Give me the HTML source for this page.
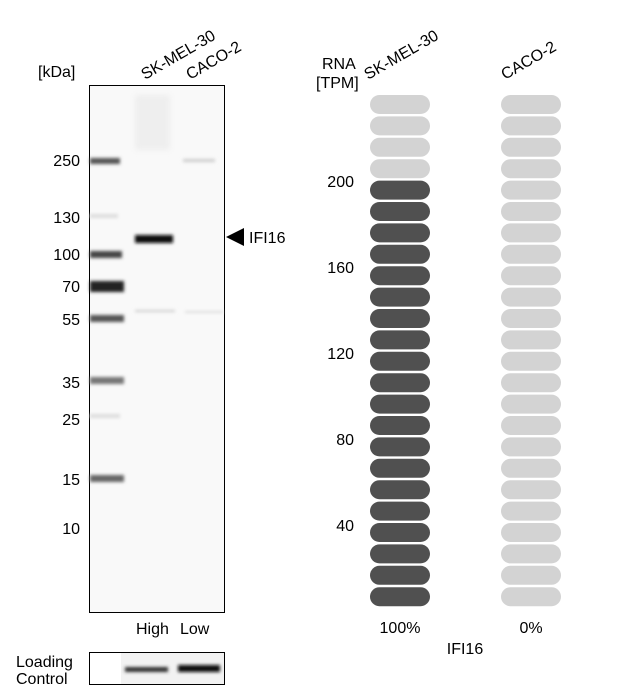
<!DOCTYPE html>
<html><head><meta charset="utf-8"><style>
body{margin:0;background:#fff;width:625px;height:690px;overflow:hidden}
svg{display:block}
text{font-family:"Liberation Sans",Arial,sans-serif;font-size:16px;fill:#000}
</style></head><body>
<svg width="625" height="690" viewBox="0 0 625 690" xmlns="http://www.w3.org/2000/svg" xmlns:xlink="http://www.w3.org/1999/xlink">
<defs>
<filter id="b" x="-20%" y="-200%" width="140%" height="500%"><feGaussianBlur stdDeviation="1.6"/></filter>
<filter id="b2" x="-20%" y="-200%" width="140%" height="500%"><feGaussianBlur stdDeviation="3"/></filter>
<g id="L"><rect x="370" y="0" width="60" height="19" rx="9.5" fill="#d3d3d3"/><rect x="501" y="0" width="60" height="19" rx="9.5" fill="#d3d3d3"/></g>
<g id="D"><rect x="370" y="0" width="60" height="19" rx="9.5" fill="#505050"/><rect x="501" y="0" width="60" height="19" rx="9.5" fill="#d3d3d3"/></g>
</defs>
<text x="38" y="77">[kDa]</text>
<text transform="translate(145,80) rotate(-30)">SK-MEL-30</text>
<text transform="translate(190,80) rotate(-30)">CACO-2</text>
<rect x="89.5" y="85.5" width="135" height="527" fill="#f9f9f9" stroke="#000"/>
<g filter="url(#b)">
<rect x="90" y="158" width="30" height="6" fill="#555"/>
<rect x="90" y="214" width="28" height="4" fill="#ddd"/>
<rect x="90" y="251" width="32" height="7" fill="#444"/>
<rect x="90" y="281" width="34" height="11" fill="#222"/>
<rect x="90" y="315" width="34" height="7" fill="#555"/>
<rect x="90" y="377" width="34" height="7" fill="#777"/>
<rect x="90" y="414" width="30" height="4" fill="#ddd"/>
<rect x="90" y="475" width="34" height="7" fill="#666"/>
<rect x="135" y="235" width="38" height="8" fill="#111"/>
<rect x="183" y="159" width="32" height="3" fill="#ccc"/>
<rect x="135" y="310" width="40" height="2" fill="#ccc"/>
<rect x="185" y="311" width="38" height="2" fill="#ddd"/>
</g>
<rect x="135" y="95" width="35" height="55" fill="#eee" filter="url(#b2)"/>
<g text-anchor="end">
<text x="80" y="166">250</text><text x="80" y="223">130</text><text x="80" y="260">100</text>
<text x="80" y="292">70</text><text x="80" y="325">55</text><text x="80" y="388">35</text>
<text x="80" y="425">25</text><text x="80" y="485">15</text><text x="80" y="534">10</text>
</g>
<polygon points="226,237 244,228 244,246" fill="#000"/>
<text x="249" y="243">IFI16</text>
<text x="136" y="634">High</text><text x="180" y="634">Low</text>
<text x="16" y="667">Loading</text><text x="16" y="684">Control</text>
<rect x="89.5" y="652.5" width="135" height="32" fill="#fff" stroke="#000"/>
<rect x="121" y="653" width="103" height="31" fill="#f2f2f2"/>
<g filter="url(#b)">
<rect x="125" y="667" width="43" height="5" fill="#333"/>
<rect x="178" y="665" width="42" height="7" fill="#111"/>
</g>
<text x="322" y="69">RNA</text><text x="316" y="88">[TPM]</text>
<text transform="translate(368,80) rotate(-30)">SK-MEL-30</text>
<text transform="translate(505,80) rotate(-30)">CACO-2</text>
<g text-anchor="end">
<text x="354" y="187">200</text><text x="354" y="273">160</text><text x="354" y="359">120</text>
<text x="354" y="445">80</text><text x="354" y="531">40</text>
</g>
<use xlink:href="#L" href="#L" y="95"/>
<use xlink:href="#L" href="#L" y="116.4"/>
<use xlink:href="#L" href="#L" y="137.8"/>
<use xlink:href="#L" href="#L" y="159.2"/>
<use xlink:href="#D" href="#D" y="180.6"/>
<use xlink:href="#D" href="#D" y="202"/>
<use xlink:href="#D" href="#D" y="223.4"/>
<use xlink:href="#D" href="#D" y="244.8"/>
<use xlink:href="#D" href="#D" y="266.2"/>
<use xlink:href="#D" href="#D" y="287.6"/>
<use xlink:href="#D" href="#D" y="309"/>
<use xlink:href="#D" href="#D" y="330.4"/>
<use xlink:href="#D" href="#D" y="351.8"/>
<use xlink:href="#D" href="#D" y="373.2"/>
<use xlink:href="#D" href="#D" y="394.6"/>
<use xlink:href="#D" href="#D" y="416"/>
<use xlink:href="#D" href="#D" y="437.4"/>
<use xlink:href="#D" href="#D" y="458.8"/>
<use xlink:href="#D" href="#D" y="480.2"/>
<use xlink:href="#D" href="#D" y="501.6"/>
<use xlink:href="#D" href="#D" y="523"/>
<use xlink:href="#D" href="#D" y="544.4"/>
<use xlink:href="#D" href="#D" y="565.8"/>
<use xlink:href="#D" href="#D" y="587.2"/>
<text x="400" y="633" text-anchor="middle">100%</text>
<text x="531" y="633" text-anchor="middle">0%</text>
<text x="465" y="654" text-anchor="middle">IFI16</text>
</svg>
</body></html>
